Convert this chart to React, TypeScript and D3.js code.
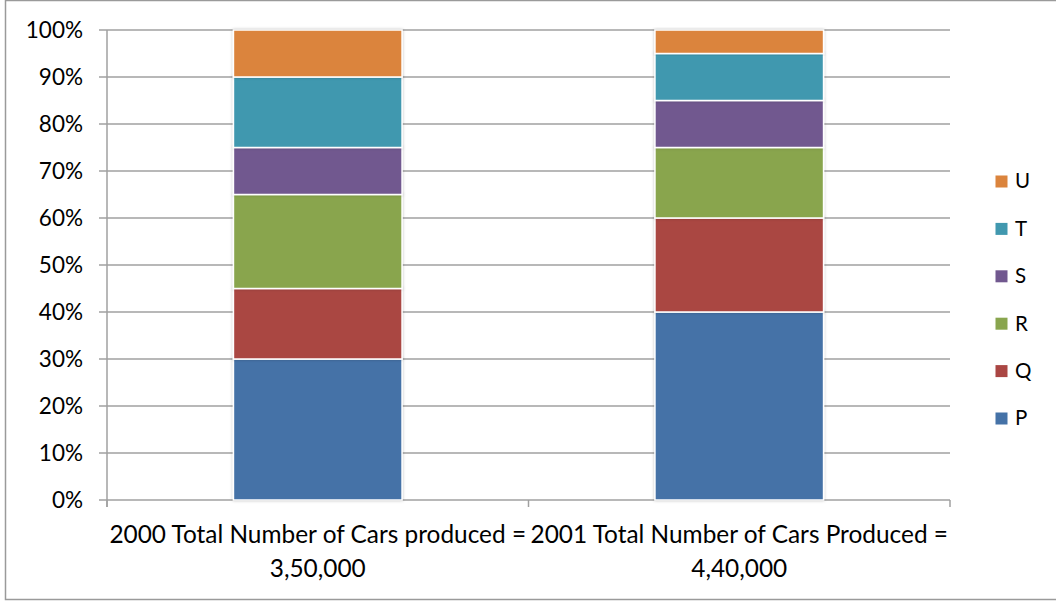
import React from "react";
import * as d3 from "d3";

const categories = ["2000", "2001"];
const categoryLines = [
	["2000 Total Number of Cars produced =", "3,50,000"],
	["2001 Total Number of Cars Produced =", "4,40,000"],
];
const seriesNames = ["P", "Q", "R", "S", "T", "U"];
const seriesColors = ["#4572A7", "#AA4643", "#89A54E", "#71588F", "#4198AF", "#DB843D"];
// percentage share per year, in series order
const share2000 = [30, 15, 20, 10, 15, 10];
const share2001 = [40, 20, 15, 10, 10, 5];
const yTicks = [0, 10, 20, 30, 40, 50, 60, 70, 80, 90, 100];

const W = 1056;
const H = 603;
const font = "Lato, 'Open Sans', sans-serif";

const rows = categories.map((c, i) => {
	const vals = i === 0 ? share2000 : share2001;
	const r: any = { year: c };
	seriesNames.forEach((s, j) => (r[s] = vals[j]));
	return r;
});

const x = d3.scaleBand().domain(categories).range([107, 950]).padding(0);
const y = d3.scaleLinear().domain([0, 100]).range([500, 30]);
const stack = d3.stack().keys(seriesNames);
const layers = stack(rows);
const barW = x.bandwidth() * 0.4;
const legendY = d3
	.scalePoint()
	.domain([...seriesNames].reverse())
	.range([181, 418]);

export default function App() {
	return (
		<svg
			width={W}
			height={H}
			style={{ position: "absolute", left: 0, top: 0 }}
			fontFamily={font}>
			<defs>
				<filter id="shadow" x="-10%" y="-10%" width="120%" height="120%">
					<feDropShadow dx="0" dy="0" stdDeviation="1.5" floodColor="#000" floodOpacity="0.25" />
				</filter>
			</defs>
			<rect x={5.5} y={0.5} width={W + 10} height={599} fill="#fff" stroke="#9a9a9a" strokeWidth={1.5} />
			{yTicks.map(t => (
				<g key={t}>
					<line x1={99} x2={950} y1={y(t)} y2={y(t)} stroke="#a0a0a0" strokeWidth={1.5} />
					<text x={83} y={y(t)} dy="0.36em" textAnchor="end" fontSize={22.5} fill="#000">
						{t}%
					</text>
				</g>
			))}
			<line x1={107} x2={107} y1={30} y2={507} stroke="#a0a0a0" strokeWidth={1.5} />
			{[107, ...categories.map(c => (x(c) as number) + x.bandwidth())].map((px, i) => (
				<line key={i} x1={px} x2={px} y1={500} y2={507} stroke="#a0a0a0" strokeWidth={1.5} />
			))}
			{layers.map((layer, li) => (
				<g key={layer.key} fill={seriesColors[li]}>
					{layer.map((d, di) => {
						const cx = (x(categories[di]) as number) + x.bandwidth() / 2;
						return (
							<rect
								key={di}
								x={cx - barW / 2}
								y={y(d[1])}
								width={barW}
								height={y(d[0]) - y(d[1])}
								stroke="#fff"
								strokeWidth={1.5}
								filter="url(#shadow)"
							/>
						);
					})}
				</g>
			))}
			{categories.map((c, i) => {
				const cx = (x(c) as number) + x.bandwidth() / 2;
				return (
					<text key={c} x={cx} textAnchor="middle" fontSize={24.4} fill="#000">
						<tspan x={cx} y={543}>{categoryLines[i][0]}</tspan>
						<tspan x={cx} y={577}>{categoryLines[i][1]}</tspan>
					</text>
				);
			})}
			{seriesNames.map((s, i) => {
				const ly = legendY(s) as number;
				return (
					<g key={s}>
						<rect x={995.5} y={ly - 5.5} width={12} height={12} fill={seriesColors[i]} />
						<text x={1015} y={ly} dy="0.36em" fontSize={20.5} fill="#000">
							{s}
						</text>
					</g>
				);
			})}
		</svg>
	);
}
